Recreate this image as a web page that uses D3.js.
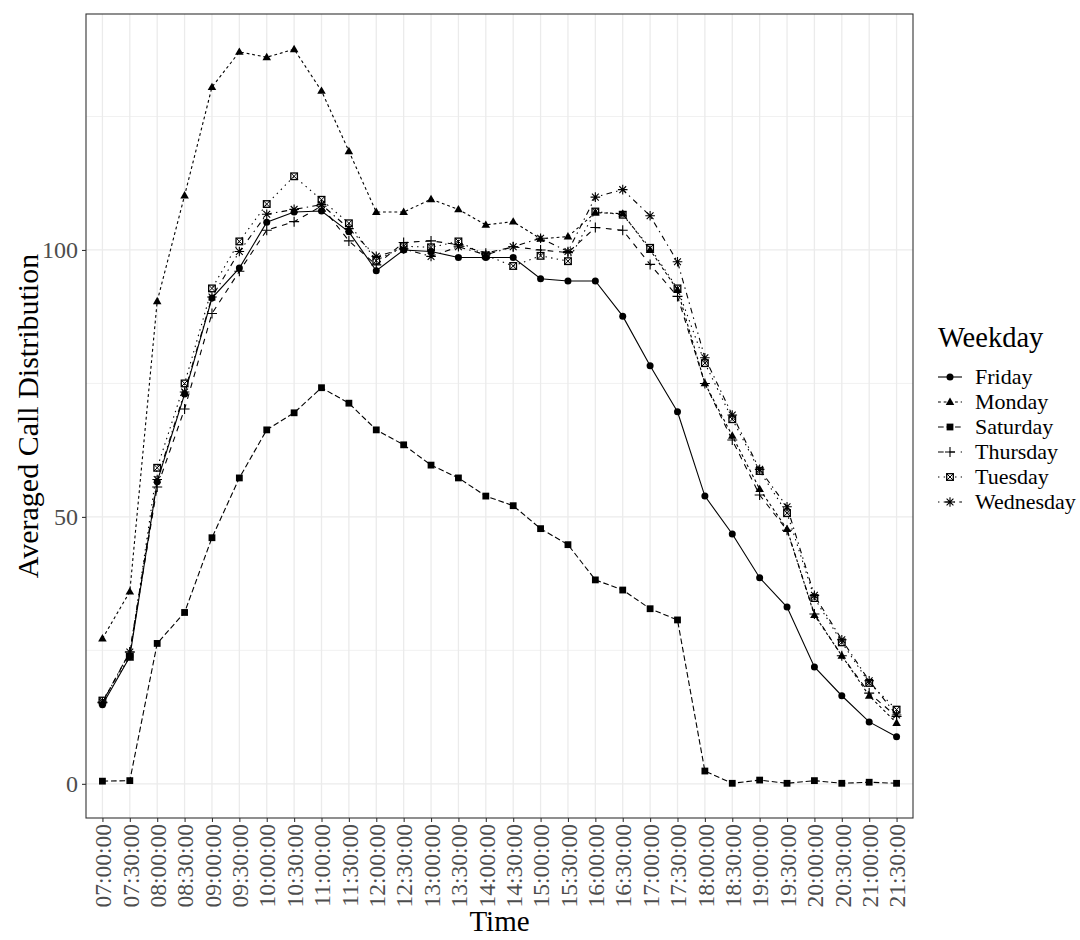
<!DOCTYPE html>
<html>
<head>
<meta charset="utf-8">
<script src="https://cdn.jsdelivr.net/npm/d3@7"></script>
<style>
  html, body { margin: 0; padding: 0; background: #fff; }
  svg { display: block; font-family: "Liberation Serif", "Times New Roman", serif; }
</style>
</head>
<body>
<svg id="chart" width="1080" height="940"></svg>
<script>
const times = ["07:00:00","07:30:00","08:00:00","08:30:00","09:00:00","09:30:00","10:00:00","10:30:00",
  "11:00:00","11:30:00","12:00:00","12:30:00","13:00:00","13:30:00","14:00:00","14:30:00","15:00:00",
  "15:30:00","16:00:00","16:30:00","17:00:00","17:30:00","18:00:00","18:30:00","19:00:00","19:30:00",
  "20:00:00","20:30:00","21:00:00","21:30:00"];
const weekdays = ["Friday","Monday","Saturday","Thursday","Tuesday","Wednesday"];
const friday    = [14.8,23.8,56.6,73.0,91.0,96.6,105.2,107.1,107.3,103.4,96.1,100.0,99.7,98.6,98.6,98.6,94.6,94.2,94.2,87.6,78.3,69.7,53.9,46.8,38.6,33.1,21.9,16.5,11.6,8.8];
const monday    = [27.2,36.0,90.4,110.2,130.5,137.1,136.1,137.6,129.8,118.5,107.1,107.1,109.5,107.6,104.7,105.3,102.1,102.5,107.0,106.8,100.0,92.5,75.0,65.2,55.2,47.7,31.6,24.0,16.5,11.4];
const saturday  = [0.5,0.6,26.3,32.1,46.1,57.3,66.3,69.5,74.2,71.3,66.3,63.5,59.7,57.3,53.9,52.1,47.8,44.8,38.2,36.3,32.8,30.7,2.4,0.1,0.7,0.1,0.6,0.1,0.3,0.1];
const thursday  = [15.2,24.7,55.6,70.2,88.1,96.0,103.7,105.3,108.2,101.7,97.2,101.4,101.7,101.0,99.4,100.6,100.0,99.5,104.2,103.7,97.3,91.3,75.0,64.4,54.1,47.5,31.8,24.0,17.0,12.6];
const tuesday   = [15.6,23.8,59.2,75.0,92.8,101.6,108.6,113.8,109.4,105.0,98.0,100.7,100.5,101.6,99.0,97.0,98.9,97.9,107.2,106.6,100.4,92.8,78.8,68.3,58.6,50.7,34.8,26.5,18.9,13.9];
const wednesday = [15.3,24.7,57.0,73.4,91.2,99.7,106.7,107.6,108.5,104.0,98.8,100.2,98.8,100.6,99.1,100.6,102.2,99.7,109.9,111.3,106.4,97.8,79.8,69.1,58.9,51.9,35.3,27.0,19.3,12.9];
const yTicks = [0, 50, 100];
const yMinor = [25, 75, 125];

const seriesValues = [friday, monday, saturday, thursday, tuesday, wednesday];
const series = weekdays.map((w, k) => ({ name: w, values: seriesValues[k] }));

const u = 1.42;
const dashes = {
  Friday: null,
  Monday: [2*u, 2*u],
  Saturday: [4*u, 2*u],
  Thursday: [4*u, 4*u],
  Tuesday: [1*u, 3*u],
  Wednesday: [1*u, 3*u, 4*u, 3*u]
};
const shapes = { Friday: "circle", Monday: "triangle", Saturday: "square", Thursday: "plus", Tuesday: "squarex", Wednesday: "asterisk" };

const svg = d3.select("#chart");
const P = { left: 86, right: 913, top: 14, bottom: 818 };

const x = d3.scalePoint().domain(times).range([P.left, P.right]).padding(0.6);
const y = d3.scaleLinear().domain([-6.4, 144.2]).range([P.bottom, P.top]);

// grid
const g = svg.append("g");
g.selectAll(".ymin").data(yMinor).join("line")
  .attr("x1", P.left).attr("x2", P.right)
  .attr("y1", d => y(d)).attr("y2", d => y(d))
  .attr("stroke", "#EBEBEB").attr("stroke-width", 0.7);
g.selectAll(".ymaj").data(yTicks).join("line")
  .attr("x1", P.left).attr("x2", P.right)
  .attr("y1", d => y(d)).attr("y2", d => y(d))
  .attr("stroke", "#EBEBEB").attr("stroke-width", 1.3);
g.selectAll(".xmaj").data(times).join("line")
  .attr("x1", d => x(d)).attr("x2", d => x(d))
  .attr("y1", P.top).attr("y2", P.bottom)
  .attr("stroke", "#EBEBEB").attr("stroke-width", 1.3);

// lines
const line = d3.line().x((d, i) => x(times[i])).y(d => y(d));
const lg = svg.append("g");
series.forEach(s => {
  lg.append("path").datum(s.values)
    .attr("d", line)
    .attr("fill", "none")
    .attr("stroke", "#000")
    .attr("stroke-width", 1.1)
    .attr("stroke-dasharray", dashes[s.name] ? dashes[s.name].join(",") : null);
});

function drawShape(sel, shape, cx, cy) {
  const gg = sel.append("g").attr("transform", `translate(${cx},${cy})`);
  if (shape === "circle") {
    gg.append("circle").attr("r", 3.5).attr("fill", "#000");
  } else if (shape === "triangle") {
    const s = 4.5;
    gg.append("path").attr("d", `M0,${-s} L${s*0.95},${s*0.65} L${-s*0.95},${s*0.65} Z`).attr("fill", "#000");
  } else if (shape === "square") {
    gg.append("rect").attr("x", -3.4).attr("y", -3.4).attr("width", 6.8).attr("height", 6.8).attr("fill", "#000");
  } else if (shape === "plus") {
    gg.append("path").attr("d", "M-5,0 H5 M0,-5 V5").attr("stroke", "#000").attr("stroke-width", 1.1).attr("fill", "none");
  } else if (shape === "squarex") {
    gg.append("rect").attr("x", -3.3).attr("y", -3.3).attr("width", 6.6).attr("height", 6.6)
      .attr("fill", "none").attr("stroke", "#000").attr("stroke-width", 1.3);
    gg.append("path").attr("d", "M-3.3,-3.3 L3.3,3.3 M3.3,-3.3 L-3.3,3.3").attr("stroke", "#000").attr("stroke-width", 1);
  } else if (shape === "asterisk") {
    gg.append("path").attr("d", "M-4.8,0 H4.8 M0,-4.8 V4.8 M-3.4,-3.4 L3.4,3.4 M3.4,-3.4 L-3.4,3.4")
      .attr("stroke", "#000").attr("stroke-width", 1.1).attr("fill", "none");
  }
}

const pg = svg.append("g");
series.forEach(s => {
  s.values.forEach((v, i) => drawShape(pg, shapes[s.name], x(times[i]), y(v)));
});

// panel border
svg.append("rect").attr("x", P.left).attr("y", P.top)
  .attr("width", P.right - P.left).attr("height", P.bottom - P.top)
  .attr("fill", "none").attr("stroke", "#333").attr("stroke-width", 1.1);

// y axis
const yAxis = d3.axisLeft(y).tickValues(yTicks).tickSize(4).tickPadding(4).tickFormat(d3.format("d"));
const ya = svg.append("g").attr("transform", `translate(${P.left},0)`).call(yAxis);
ya.select(".domain").remove();
ya.selectAll(".tick line").attr("stroke", "#333").attr("stroke-width", 1.1);
ya.selectAll(".tick text").attr("fill", "#4D4D4D").style("font-size", "24px")
  .style("font-family", "'Liberation Serif', serif");

// x axis
const xAxis = d3.axisBottom(x).tickSize(4).tickPadding(4);
const xa = svg.append("g").attr("transform", `translate(0,${P.bottom})`).call(xAxis);
xa.select(".domain").remove();
xa.selectAll(".tick line").attr("stroke", "#333").attr("stroke-width", 1.1);
xa.selectAll(".tick text")
  .attr("fill", "#4D4D4D").style("font-size", "23.5px").style("font-family", "'Liberation Serif', serif")
  .attr("transform", "rotate(-90)")
  .attr("x", -6).attr("y", 0).attr("dy", "0.35em")
  .attr("text-anchor", "end");

// axis titles
svg.append("text").attr("x", (P.left + P.right) / 2).attr("y", 931)
  .attr("text-anchor", "middle").style("font-size", "29px").attr("fill", "#000").text("Time");
svg.append("text").attr("transform", `translate(38,${(P.top + P.bottom) / 2}) rotate(-90)`)
  .attr("text-anchor", "middle").style("font-size", "30px").attr("fill", "#000").text("Averaged Call Distribution");

// legend
const leg = svg.append("g");
leg.append("text").attr("x", 938).attr("y", 347).style("font-size", "28.5px").attr("fill", "#000").text("Weekday");
series.forEach((s, k) => {
  const cy = 377 + k * 25;
  leg.append("line").attr("x1", 938).attr("x2", 962).attr("y1", cy).attr("y2", cy)
    .attr("stroke", "#000").attr("stroke-width", 1.1)
    .attr("stroke-dasharray", dashes[s.name] ? dashes[s.name].join(",") : null);
  drawShape(leg, shapes[s.name], 950, cy);
  leg.append("text").attr("x", 975).attr("y", cy).attr("dy", "0.33em")
    .style("font-size", "22px").attr("fill", "#000").text(s.name);
});
</script>
</body>
</html>
